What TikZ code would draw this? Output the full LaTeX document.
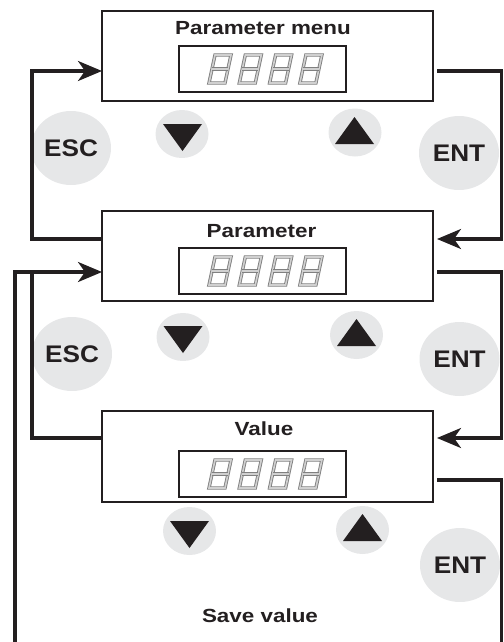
\documentclass[tikz,border=0pt]{standalone}
\usepackage{fontspec}
\setmainfont{Liberation Sans}
\usetikzlibrary{arrows.meta,shapes.geometric}
\definecolor{btnc}{HTML}{E6E7E8}
\definecolor{segc}{HTML}{808080}
\definecolor{segin}{HTML}{D0D0D0}
\definecolor{ink}{HTML}{231F20}
\newcommand\hstr[1]{\scalebox{1.18}[1]{#1}}
\newcommand\hstrb[1]{\scalebox{1.09}[1]{#1}}
\begin{document}
\begin{tikzpicture}[x=1pt,y=-1pt,
 panel/.style={draw=ink,line width=1.2pt,minimum width=331pt,minimum height=90pt,inner sep=0pt},
 display/.style={draw=ink,line width=1.2pt,minimum width=167pt,minimum height=46pt,inner sep=0pt},
 title/.style={font=\fontsize{19}{22}\selectfont\bfseries,anchor=base,inner sep=0pt,text=ink},
 bigbtn/.style={ellipse,fill=btnc,minimum width=80pt,minimum height=74pt,inner sep=0pt,font=\fontsize{24}{28}\selectfont\bfseries,text=ink},
 smallbtn/.style={ellipse,fill=btnc,minimum width=53pt,minimum height=48pt,inner sep=0pt},
 conn/.style={line width=3.2pt,draw=ink,line join=miter},
 arr/.style={conn,-{Stealth[length=24pt,width=20pt,inset=7pt]}},
 seg/.style={draw=segc,double=segin,line width=0.9pt,double distance=1.6pt,line join=miter},
 sevseg/.pic={
   \draw[seg] (0,0)--(16,0)--(22,-28)--(6,-28)--cycle;
   \draw[seg] (3,-14)--(19,-14);
 },
 downtri/.pic={\fill[ink] (-19.5,-10)--(19.5,-10)--(0,17)--cycle;},
 uptri/.pic={\fill[ink] (0,-15)--(19.5,12)--(-19.5,12)--cycle;}
]
\useasboundingbox (0,0) rectangle (503,642);

% panels
\node[panel] (box1) at (267.5,56) {};
\node[panel] (box2) at (267.5,256) {};
\node[panel,minimum height=91pt] (box3) at (267.5,456.5) {};

% displays
\node[display] (d1) at (262.5,69) {};
\node[display] (d2) at (262.5,271) {};
\node[display] (d3) at (262.5,474) {};
\foreach \cy in {69,271,474}{
  \foreach \i in {0,1,2,3}{
    \pic at ({209+\i*30.3},{\cy+14}) {sevseg};
  }
}

% titles
\node[title] (t1) at (263,35) {\hstr{Parameter menu}};
\node[title] (t2) at (261.5,237) {\hstr{Parameter}};
\node[title] (t3) at (264,435) {\hstr{Value}};
\node[title] (t4) at (260,622) {\hstr{Save value}};

% buttons
\node[bigbtn] (esc1) at (71,148) {\hstrb{ESC}};
\node[bigbtn] (ent1) at (459,153) {\hstrb{ENT}};
\node[bigbtn] (esc2) at (72,354) {\hstrb{ESC}};
\node[bigbtn] (ent2) at (459.5,359) {\hstrb{ENT}};
\node[bigbtn] (ent3) at (460,565) {\hstrb{ENT}};

\node[smallbtn] (dn1) at (182,134) {};
\node[smallbtn] (up1) at (355,132.5) {};
\node[smallbtn] (dn2) at (183,337) {};
\node[smallbtn] (up2) at (356.5,335) {};
\node[smallbtn] (dn3) at (189.5,531) {};
\node[smallbtn] (up3) at (362.5,530) {};
\pic at (182.5,134) {downtri};
\pic at (354.5,132) {uptri};
\pic at (183,336) {downtri};
\pic at (356.5,334) {uptri};
\pic at (189.5,531) {downtri};
\pic at (362.5,529) {uptri};

% connector points
\coordinate (e1s) at (102,239);
\coordinate (e1a) at (32,239);
\coordinate (e1b) at (32,71);
\coordinate (e1t) at (102,71);
\coordinate (n1s) at (437,71);
\coordinate (n1a) at (501.5,71);
\coordinate (n1b) at (501.5,239);
\coordinate (n1t) at (437,239);
\coordinate (e2s) at (102,438);
\coordinate (e2a) at (32,438);
\coordinate (e2b) at (32,272);
\coordinate (svs) at (15,642);
\coordinate (sva) at (15,272);
\coordinate (e2t) at (102,272);
\coordinate (n2s) at (437,272);
\coordinate (n2a) at (501.5,272);
\coordinate (n2b) at (501.5,438);
\coordinate (n2t) at (437,438);
\coordinate (n3s) at (437,480);
\coordinate (n3a) at (501.5,480);
\coordinate (n3b) at (501.5,642);

\draw[arr] (e1s) -- (e1a) -- (e1b) -- (e1t);
\draw[arr] (n1s) -- (n1a) -- (n1b) -- (n1t);
\draw[conn] (e2s) -- (e2a) -- (e2b);
\draw[arr] (svs) -- (sva) -- (e2t);
\draw[arr] (n2s) -- (n2a) -- (n2b) -- (n2t);
\draw[conn] (n3s) -- (n3a) -- (n3b);
\end{tikzpicture}
\end{document}
